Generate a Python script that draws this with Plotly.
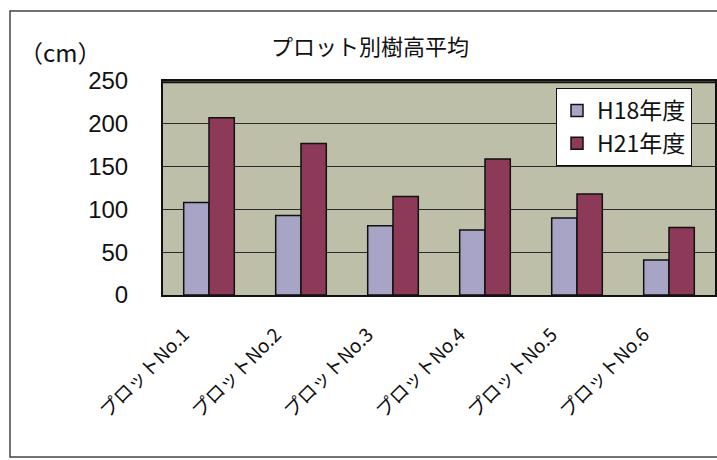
import plotly.graph_objects as go

categories = ["プロットNo.1", "プロットNo.2", "プロットNo.3", "プロットNo.4", "プロットNo.5", "プロットNo.6"]
h18 = [108, 93, 81, 76, 90, 41]
h21 = [207, 177, 115, 159, 118, 79]
series_names = ["H18年度", "H21年度"]
y_ticks = [0, 50, 100, 150, 200, 250]

FONT = "Noto Sans CJK JP, Liberation Sans, Arial, sans-serif"
W, H = 717, 460
L, R, T, B = 163, 2, 81, 165
pw, ph = W - L - R, H - T - B

fig = go.Figure()
fig.add_trace(go.Bar(x=categories, y=h18, name=series_names[0],
                     marker=dict(color="#a7a4c6", line=dict(color="#111111", width=1.5))))
fig.add_trace(go.Bar(x=categories, y=h21, name=series_names[1],
                     marker=dict(color="#8d3a59", line=dict(color="#111111", width=1.5))))

def px_x(x):
    return (x - L) / pw

def px_y(y):
    return 1 - (y - T) / ph

annotations = [dict(text="（cm）", x=px_x(60), y=px_y(52), xref="paper", yref="paper",
                    xanchor="center", yanchor="middle", showarrow=False,
                    font=dict(size=24, family=FONT, color="#111111"))]
for i, c in enumerate(categories):
    annotations.append(dict(text=c, x=(i + 0.5) / len(categories), xref="paper", y=0, yref="paper",
                            xanchor="right", yanchor="top", textangle=-45,
                            xshift=-12, yshift=-23, showarrow=False,
                            font=dict(size=19, family=FONT, color="#111111")))

fig.update_layout(
    width=W, height=H,
    margin=dict(l=L, r=R, t=T, b=B, autoexpand=False),
    paper_bgcolor="white",
    plot_bgcolor="#bdbfa9",
    barmode="group",
    bargap=0.45,
    bargroupgap=0.0,
    font=dict(family=FONT, color="#111111"),
    title=dict(text="プロット別樹高平均", x=370 / W, xanchor="center",
               y=1 - 47 / H, yanchor="middle",
               font=dict(size=22, family=FONT, color="#111111")),
    showlegend=True,
    legend=dict(x=px_x(556), y=px_y(88), xanchor="left", yanchor="top",
                bgcolor="white", bordercolor="#111111", borderwidth=1,
                font=dict(size=23, family=FONT, color="#111111"),
                tracegroupgap=0, itemwidth=30),
    xaxis=dict(range=[-0.5, 5.5], showline=True, linecolor="#111111", linewidth=2,
               mirror=True, showticklabels=False, ticks="",
               showgrid=False, automargin=False),
    yaxis=dict(range=[0, 250], tickvals=y_ticks, showline=True, linecolor="#111111",
               linewidth=2, mirror=True,
               showgrid=True, gridcolor="#2a2a2a", gridwidth=1.2,
               tickfont=dict(size=24, family="Liberation Sans, Arial, sans-serif"),
               ticklabelstandoff=28, zeroline=False, automargin=False),
    annotations=annotations,
    shapes=[dict(type="rect", xref="paper", yref="paper",
                 x0=px_x(10), x1=px_x(730), y0=px_y(457), y1=px_y(11),
                 line=dict(color="#444444", width=1.5), layer="below"),
            dict(type="line", xref="paper", yref="paper", x0=0, x1=1, y0=0.994, y1=0.994,
                 line=dict(color="#111111", width=2), layer="above")],
)

fig.write_html("out.html", config={"displayModeBar": False},
               post_script="document.body.style.margin='0';document.body.style.overflow='hidden';")
